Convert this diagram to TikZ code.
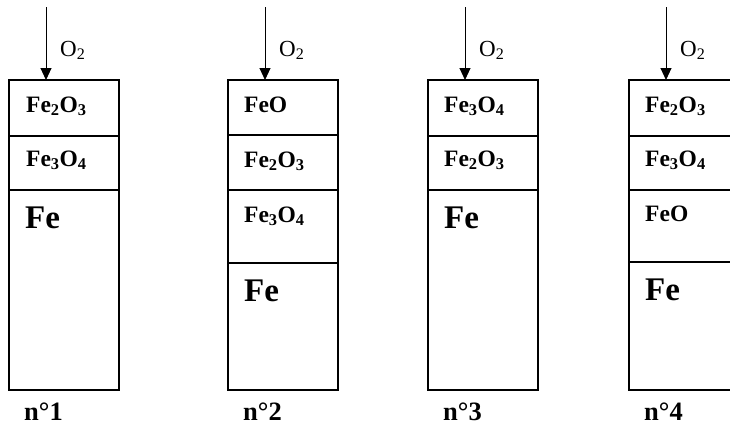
\documentclass[tikz,border=0pt]{standalone}
\usepackage{fontspec}
\setmainfont{Liberation Serif}
\usetikzlibrary{arrows.meta}
\tikzset{
  layer/.style={draw, line width=1.3pt, minimum width=110pt, anchor=north west, inner sep=0pt, outer sep=0pt},
  chem/.style={anchor=base west, inner sep=0pt, font=\fontsize{23.5}{26}\selectfont\bfseries},
  metal/.style={anchor=base west, inner sep=0pt, font=\fontsize{33}{36}\selectfont\bfseries},
  numlab/.style={anchor=base west, inner sep=0pt, text depth=0pt, font=\fontsize{26.5}{30}\selectfont\bfseries},
  gaslab/.style={anchor=base west, inner sep=0pt, font=\fontsize{23}{26}\selectfont},
  feed/.style={line width=1pt, -{Triangle[width=11pt,length=12pt]}}
}
\begin{document}
\begin{tikzpicture}[x=1pt,y=-1pt]
\useasboundingbox (0,0) rectangle (730,426);
\clip (0,0) rectangle (730,426);
% Sample 1
\node[layer, minimum height=56pt] (b1l1) at (9,80) {};
\node[layer, minimum height=54pt] (b1l2) at (9,136) {};
\node[layer, minimum height=200pt] (b1l3) at (9,190) {};
\node[chem] (t11) at (26,112) {Fe\textsubscript{2}O\textsubscript{3}};
\node[chem] (t12) at (26,166) {Fe\textsubscript{3}O\textsubscript{4}};
\node[metal] (t13) at (25,228) {Fe};
\node[numlab] (n1) at (24,420) {n°1};
\coordinate (a1) at (46,7);
\draw[feed] (a1) -- (a1 |- b1l1.north);
\node[gaslab] (g1) at (60,56) {O\textsubscript{2}};
% Sample 2
\node[layer, minimum height=55pt] (b2l1) at (228,80) {};
\node[layer, minimum height=55pt] (b2l2) at (228,135) {};
\node[layer, minimum height=73pt] (b2l3) at (228,190) {};
\node[layer, minimum height=127pt] (b2l4) at (228,263) {};
\node[chem] (t21) at (244,112) {FeO};
\node[chem] (t22) at (244,167) {Fe\textsubscript{2}O\textsubscript{3}};
\node[chem] (t23) at (244,222) {Fe\textsubscript{3}O\textsubscript{4}};
\node[metal] (t24) at (244,301) {Fe};
\node[numlab] (n2) at (243,420) {n°2};
\coordinate (a2) at (265,7);
\draw[feed] (a2) -- (a2 |- b2l1.north);
\node[gaslab] (g2) at (279,56) {O\textsubscript{2}};
% Sample 3
\node[layer, minimum height=56pt] (b3l1) at (428,80) {};
\node[layer, minimum height=54pt] (b3l2) at (428,136) {};
\node[layer, minimum height=200pt] (b3l3) at (428,190) {};
\node[chem] (t31) at (444,112) {Fe\textsubscript{3}O\textsubscript{4}};
\node[chem] (t32) at (444,166) {Fe\textsubscript{2}O\textsubscript{3}};
\node[metal] (t33) at (444,228) {Fe};
\node[numlab] (n3) at (443,420) {n°3};
\coordinate (a3) at (465,7);
\draw[feed] (a3) -- (a3 |- b3l1.north);
\node[gaslab] (g3) at (479,56) {O\textsubscript{2}};
% Sample 4
\node[layer, minimum height=56pt] (b4l1) at (629,80) {};
\node[layer, minimum height=54pt] (b4l2) at (629,136) {};
\node[layer, minimum height=72pt] (b4l3) at (629,190) {};
\node[layer, minimum height=128pt] (b4l4) at (629,262) {};
\node[chem] (t41) at (645,112) {Fe\textsubscript{2}O\textsubscript{3}};
\node[chem] (t42) at (645,166) {Fe\textsubscript{3}O\textsubscript{4}};
\node[chem] (t43) at (645,221) {FeO};
\node[metal] (t44) at (645,300) {Fe};
\node[numlab] (n4) at (644,420) {n°4};
\coordinate (a4) at (666,7);
\draw[feed] (a4) -- (a4 |- b4l1.north);
\node[gaslab] (g4) at (680,56) {O\textsubscript{2}};
\end{tikzpicture}
\end{document}
